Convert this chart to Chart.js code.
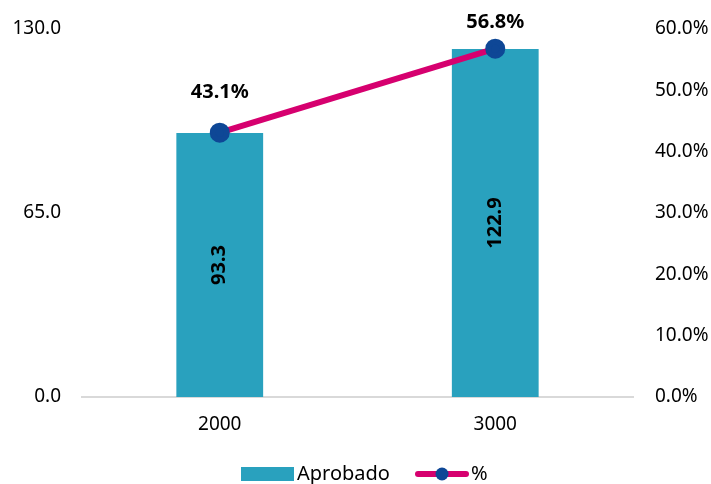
<!DOCTYPE html>
<html>
<head>
<meta charset="utf-8">
<script src="https://cdn.jsdelivr.net/npm/chart.js@4"></script>
<style>
  html, body { margin: 0; padding: 0; background: #fff; }
  #wrap { width: 711px; height: 484px; }
</style>
</head>
<body>
<div id="wrap"><canvas id="chart" width="711" height="484"></canvas></div>
<script>
// datos del gráfico
const categorias = ['2000', '3000'];
const aprobado = [93.3, 122.9];
const porcentaje = [43.1, 56.8];
const ticksIzq = [0, 65, 130];

const colorBarra = '#29a1be';
const colorLinea = '#d6006f';
const colorPunto = '#0e4796';
const fuente = '"Noto Sans", sans-serif';

// etiquetas de datos y leyenda dibujadas a mano
const etiquetas = {
  id: 'etiquetas',
  afterDatasetsDraw(chart) {
    const ctx = chart.ctx;
    ctx.save();
    ctx.fillStyle = '#000';
    ctx.font = 'bold 20px ' + fuente;
    ctx.textAlign = 'center';
    ctx.textBaseline = 'middle';

    // valores dentro de las barras (girados) - dataset 1 es la barra
    chart.getDatasetMeta(1).data.forEach((bar, i) => {
      const yMid = (bar.y + bar.base) / 2;
      ctx.save();
      ctx.translate(bar.x, yMid);
      ctx.rotate(-Math.PI / 2);
      ctx.fillText(aprobado[i].toFixed(1), 0, 0);
      ctx.restore();
    });

    // porcentajes sobre los puntos
    const desplaz = [-40, -26];
    chart.getDatasetMeta(0).data.forEach((pt, i) => {
      ctx.fillText(porcentaje[i].toFixed(1) + '%', pt.x, pt.y + desplaz[i]);
    });

    // leyenda
    const yL = 474;
    ctx.font = '20px ' + fuente;
    ctx.textAlign = 'left';
    ctx.fillStyle = colorBarra;
    ctx.fillRect(241, yL - 7, 53, 14);
    ctx.fillStyle = '#000';
    ctx.fillText('Aprobado', 297, yL);
    ctx.strokeStyle = colorLinea;
    ctx.lineWidth = 6;
    ctx.lineCap = 'round';
    ctx.beginPath();
    ctx.moveTo(418, yL);
    ctx.lineTo(466, yL);
    ctx.stroke();
    ctx.fillStyle = colorPunto;
    ctx.beginPath();
    ctx.arc(442, yL, 6.5, 0, Math.PI * 2);
    ctx.fill();
    ctx.fillStyle = '#000';
    ctx.fillText('%', 471, yL);
    ctx.restore();
  }
};

new Chart(document.getElementById('chart').getContext('2d'), {
  data: {
    labels: categorias,
    datasets: [
      {
        type: 'line',
        label: '%',
        data: porcentaje,
        yAxisID: 'y1',
        borderColor: colorLinea,
        borderWidth: 6,
        pointRadius: 7,
        pointBackgroundColor: colorPunto,
        pointBorderColor: colorPunto,
        tension: 0,
        order: 0
      },
      {
        type: 'bar',
        label: 'Aprobado',
        data: aprobado,
        yAxisID: 'y',
        backgroundColor: colorBarra,
        barPercentage: 0.315,
        categoryPercentage: 1,
        order: 1
      }
    ]
  },
  options: {
    responsive: false,
    animation: false,
    layout: { padding: { top: 29, bottom: 44 } },
    plugins: {
      legend: { display: false },
      tooltip: { enabled: false }
    },
    scales: {
      x: {
        grid: { display: false },
        border: { display: true, color: '#d9d9d9', width: 2 },
        ticks: { color: '#000', font: { family: fuente, size: 19 }, padding: 8 },
        afterFit(s) { s.height = 43; }
      },
      y: {
        position: 'left',
        min: 0,
        max: 130,
        afterBuildTicks(s) { s.ticks = ticksIzq.map(v => ({ value: v })); },
        grid: { display: false },
        border: { display: false },
        ticks: {
          color: '#000',
          font: { family: fuente, size: 19 },
          padding: 13,
          callback: v => v.toFixed(1)
        },
        afterFit(s) { s.width = 82; }
      },
      y1: {
        position: 'right',
        min: 0,
        max: 60,
        grid: { display: false },
        border: { display: false },
        ticks: {
          stepSize: 10,
          color: '#000',
          font: { family: fuente, size: 19 },
          padding: 14,
          callback: v => v.toFixed(1) + '%'
        },
        afterFit(s) { s.width = 78; }
      }
    }
  },
  plugins: [etiquetas]
});
</script>
</body>
</html>
